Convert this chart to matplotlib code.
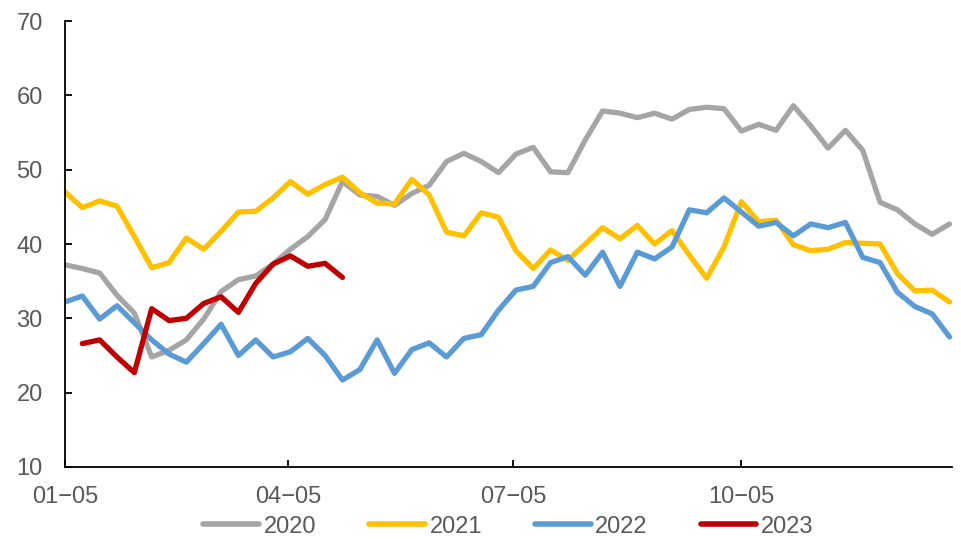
import matplotlib
matplotlib.use("Agg")
import matplotlib.pyplot as plt
import matplotlib.dates as mdates
import pandas as pd

# Weekly observation dates (month-day axis shared by every year)
weeks = pd.date_range("2021-01-05", periods=52, freq="7D")

s2020 = [37.2, 36.7, 36.1, 33.1, 30.7, 24.8, 25.7, 27.1, 29.9, 33.6,
         35.2, 35.7, 37.3, 39.3, 41.0, 43.3, 48.4, 46.6, 46.4, 45.2,
         46.8, 47.9, 51.1, 52.2, 51.1, 49.6, 52.1, 53.0, 49.7, 49.6,
         54.0, 57.9, 57.6, 57.0, 57.6, 56.8, 58.1, 58.4, 58.2, 55.2,
         56.1, 55.3, 58.6, 55.9, 52.9, 55.3, 52.6, 45.6, 44.6, 42.7,
         41.3, 42.7]
s2021 = [47.0, 44.9, 45.8, 45.1, 41.0, 36.8, 37.5, 40.8, 39.3, 41.7,
         44.3, 44.4, 46.2, 48.4, 46.7, 48.0, 49.0, 46.9, 45.5, 45.4,
         48.7, 46.6, 41.6, 41.1, 44.2, 43.6, 39.1, 36.7, 39.2, 37.8,
         40.0, 42.2, 40.7, 42.5, 40.0, 41.8, 38.5, 35.4, 39.6, 45.7,
         43.0, 43.2, 39.9, 39.1, 39.3, 40.2, 40.1, 40.0, 36.0, 33.7,
         33.8, 32.2]
s2022 = [32.2, 33.0, 29.9, 31.7, 29.4, 27.1, 25.2, 24.1, 26.6, 29.2,
         25.0, 27.1, 24.8, 25.5, 27.3, 25.0, 21.7, 23.1, 27.1, 22.6,
         25.8, 26.7, 24.8, 27.3, 27.8, 31.1, 33.8, 34.3, 37.5, 38.3,
         35.8, 38.9, 34.3, 38.9, 38.0, 39.6, 44.6, 44.2, 46.2, 44.3,
         42.4, 42.9, 41.1, 42.7, 42.2, 42.9, 38.2, 37.5, 33.5, 31.6,
         30.6, 27.5]
# 2023 starts from the second week
s2023 = [None, 26.6, 27.1, 24.8, 22.7, 31.3, 29.7, 30.0, 32.0, 32.9,
         30.8, 34.7, 37.3, 38.4, 37.0, 37.4, 35.5]

series = {"2020": s2020, "2021": s2021, "2022": s2022, "2023": s2023}
colors = {"2020": "#A5A5A5", "2021": "#FFC000", "2022": "#5B9BD5", "2023": "#C00000"}

plt.rcParams["font.family"] = ["Liberation Sans", "DejaVu Sans"]

fig = plt.figure(figsize=(9.61, 5.39), dpi=100)
ax = fig.add_axes([0.0676, 0.1336, 0.9230, 0.8274])

for name, vals in series.items():
    y = pd.Series(vals, dtype="float64")
    ax.plot(weeks[:len(y)], y, color=colors[name], lw=3.8,
            solid_joinstyle="round", solid_capstyle="round", label=name)

ax.set_ylim(10, 70)
ax.set_yticks(range(10, 71, 10))
ax.set_xlim(weeks[0], weeks[-1] + pd.Timedelta(days=1))

tick_dates = pd.to_datetime(["2021-01-05", "2021-04-05", "2021-07-05", "2021-10-05"])
ax.set_xticks(tick_dates)
ax.xaxis.set_major_formatter(mdates.DateFormatter("%m\u2212%d"))

for side in ("top", "right"):
    ax.spines[side].set_visible(False)
for side in ("left", "bottom"):
    ax.spines[side].set_color("black")
    ax.spines[side].set_linewidth(1.3)

ax.tick_params(axis="both", direction="in", length=5, width=1.3,
               colors="black", labelcolor="#595959", labelsize=17)
ax.tick_params(axis="y", pad=16)
ax.tick_params(axis="x", pad=14)

leg = ax.legend(loc="center", bbox_to_anchor=(0.5, -0.134), ncol=4, frameon=False,
                fontsize=17, handlelength=2.35, columnspacing=2.25, handletextpad=0.2,
                labelcolor="#595959", borderaxespad=0, borderpad=0)
for h in leg.get_lines():
    h.set_linewidth(4.0)

fig.savefig("out.png", dpi=100)
